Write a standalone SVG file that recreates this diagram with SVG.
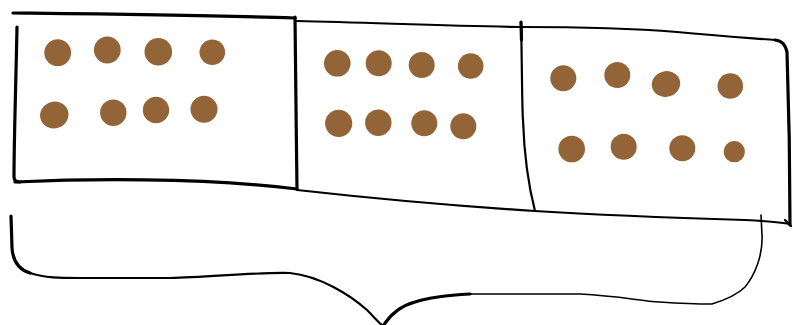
<svg xmlns="http://www.w3.org/2000/svg" width="793" height="325" viewBox="0 0 793 325">
<style>
.ln{fill:none;stroke:#000;stroke-linecap:round;stroke-linejoin:round}
.thick{stroke-width:3.2}
.mid{stroke-width:2.2}
.thin{stroke-width:1.6}
.dot{fill:#936438}
</style>
<rect width="793" height="325" fill="#fff"/>
<g id="box1">
<path class="ln thick" d="M13,13 C100,14 200,15 295,18"/>
<path class="ln thick" d="M17,27 C16,80 14,140 14,177 Q14,182 20,182"/>
<path class="ln thick" d="M15,182 C80,179 200,177 297,189"/>
<path class="ln thick" d="M295,17 C296,60 296,130 297,189"/>
<circle class="dot" cx="57.7" cy="52.7" r="13.4"/>
<circle class="dot" cx="107.3" cy="50" r="13.4"/>
<circle class="dot" cx="158.3" cy="51.7" r="13.8"/>
<circle class="dot" cx="212.3" cy="52.3" r="12.8"/>
<ellipse class="dot" cx="54.3" cy="115" rx="14.3" ry="13.3" transform="rotate(-20 54.3 115)"/>
<circle class="dot" cx="113.3" cy="112.7" r="13.2"/>
<circle class="dot" cx="156" cy="110" r="13.2"/>
<circle class="dot" cx="204" cy="109.3" r="13.5"/>
</g>
<g id="box2">
<path class="ln mid" d="M297,21 C380,23 450,26 521,27"/>
<path class="ln mid" d="M297,190 C360,197 440,205 535,211"/>
<path class="ln mid" d="M521,22 C522,60 522,110 523,120 C524,150 527,180 535,211"/>
<path class="ln thick" d="M521,22 L521.5,40"/>
<circle class="dot" cx="337.3" cy="63.3" r="13.3"/>
<circle class="dot" cx="378.7" cy="63.3" r="13"/>
<circle class="dot" cx="421.7" cy="65" r="13"/>
<circle class="dot" cx="470.7" cy="66" r="12.8"/>
<circle class="dot" cx="338.7" cy="123.3" r="13.6"/>
<circle class="dot" cx="378.3" cy="122.7" r="13.2"/>
<circle class="dot" cx="424.3" cy="123.3" r="13"/>
<circle class="dot" cx="463.3" cy="126.3" r="13"/>
</g>
<g id="box3">
<path class="ln mid" d="M521,27 C580,27 640,29 677,32 C720,36 750,38 775,40"/>
<path class="ln thick" d="M775,40 C782,41 785,44 787,52 C789,110 790,170 790,225"/>
<path class="ln mid" d="M535,211 C600,215 680,218 745,220 C765,221 780,222 790,224"/>
<path class="ln mid" d="M785,220 L791,226"/>
<circle class="dot" cx="563.3" cy="78.3" r="13"/>
<circle class="dot" cx="617.3" cy="75" r="13"/>
<ellipse class="dot" cx="666" cy="84" rx="14.3" ry="12.8" transform="rotate(-15 666 84)"/>
<circle class="dot" cx="730.3" cy="86" r="12.8"/>
<circle class="dot" cx="571.7" cy="149" r="13.3"/>
<circle class="dot" cx="623.7" cy="146.7" r="13"/>
<circle class="dot" cx="682.3" cy="148.3" r="13"/>
<circle class="dot" cx="734.3" cy="151.7" r="10.6"/>
</g>
<g id="connectors">
<path class="ln thick" d="M11,216 L12,248 C13,262 20,270 30,273"/>
<path class="ln mid" d="M30,273 C45,278 60,278 80,278 L170,278 C210,277 260,272 290,273 C320,276 350,295 367,310 C375,318 380,324 383,326"/>
<path class="ln thick" d="M383,326 C390,315 400,306 415,302 C430,297 450,295 470,294"/>
<path class="ln thin" d="M470,294 L580,294 C620,296 640,301 660,302 C690,304 705,304 712,304 C725,300 738,294 745,287 C755,275 763,255 762,235 L761,215"/>
</g>
</svg>
